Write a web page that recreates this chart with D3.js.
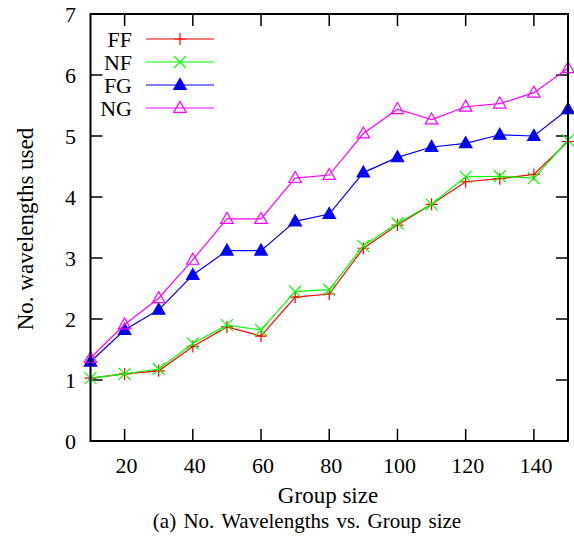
<!DOCTYPE html>
<html><head><meta charset="utf-8">
<script src="https://cdn.jsdelivr.net/npm/d3@7"></script>
<style>body{margin:0;background:#fff}svg text{font-family:"Liberation Serif","Times New Roman",serif}</style>
</head><body><svg id="c" width="574" height="537"></svg>
<script>
const groupSizes = [10,20,30,40,50,60,70,80,90,100,110,120,130,140,150];
const FF = [1.03,1.10,1.15,1.55,1.87,1.72,2.36,2.41,3.16,3.54,3.88,4.25,4.30,4.37,4.91];
const NF = [1.03,1.10,1.18,1.60,1.90,1.82,2.45,2.48,3.20,3.57,3.88,4.33,4.34,4.31,4.93];
const FG = [1.30,1.82,2.15,2.72,3.12,3.12,3.60,3.72,4.40,4.65,4.82,4.88,5.02,5.00,5.44];
const NG = [1.36,1.91,2.34,2.97,3.64,3.64,4.31,4.36,5.04,5.44,5.27,5.48,5.53,5.71,6.11];
const seriesNames = ["FF","NF","FG","NG"];
const xTicks = [20,40,60,80,100,120,140];
const yTicks = [0,1,2,3,4,5,6,7];

const series = [
  {name:seriesNames[0], values:FF, color:"#ff0000", marker:"plus"},
  {name:seriesNames[1], values:NF, color:"#00ff00", marker:"cross"},
  {name:seriesNames[2], values:FG, color:"#0000ff", marker:"tri"},
  {name:seriesNames[3], values:NG, color:"#ff00ff", marker:"otri"}
];

const svg = d3.select("#c");
const L=90.5, R=568, T=14, B=441;
const x = d3.scaleLinear().domain([10,150]).range([L,R]);
const y = d3.scaleLinear().domain([0,7]).range([B,T]);
const tl = 12;

const g = svg.append("g");
xTicks.forEach(t=>{
  g.append("line").attr("x1",x(t)).attr("x2",x(t)).attr("y1",B).attr("y2",B-tl).attr("stroke","#000").attr("stroke-width",1.5);
  g.append("line").attr("x1",x(t)).attr("x2",x(t)).attr("y1",T).attr("y2",T+tl).attr("stroke","#000").attr("stroke-width",1.5);
  g.append("text").attr("x",x(t)+2).attr("y",473).attr("text-anchor","middle").attr("font-size",22).text(t);
});
yTicks.forEach(t=>{
  if(t>0 && t<7){
    g.append("line").attr("x1",L).attr("x2",L+tl).attr("y1",y(t)).attr("y2",y(t)).attr("stroke","#000").attr("stroke-width",1.5);
    g.append("line").attr("x1",R).attr("x2",R-tl).attr("y1",y(t)).attr("y2",y(t)).attr("stroke","#000").attr("stroke-width",1.5);
  }
  g.append("text").attr("x",76).attr("y",y(t)+7.5).attr("text-anchor","end").attr("font-size",22).text(t);
});

function drawMarker(sel, type, color, cx, cy){
  const s=6;
  if(type==="plus"){
    sel.append("path").attr("d",`M${cx-s},${cy}H${cx+s}M${cx},${cy-s}V${cy+s}`).attr("stroke",color).attr("stroke-width",1.2).attr("fill","none");
  } else if(type==="cross"){
    sel.append("path").attr("d",`M${cx-s},${cy-s}L${cx+s},${cy+s}M${cx-s},${cy+s}L${cx+s},${cy-s}`).attr("stroke",color).attr("stroke-width",1.2).attr("fill","none");
  } else {
    const h=11, w=12.5;
    const d=`M${cx},${cy-h*0.6}L${cx+w/2},${cy+h*0.4}L${cx-w/2},${cy+h*0.4}Z`;
    sel.append("path").attr("d",d).attr("stroke",color).attr("stroke-width",1.2)
      .attr("fill", type==="tri"?color:"none");
  }
}

const line = d3.line().x((d,i)=>x(groupSizes[i])).y(d=>y(d));
series.forEach(s=>{
  const sg = svg.append("g");
  sg.append("path").datum(s.values).attr("d",line).attr("fill","none").attr("stroke",s.color).attr("stroke-width",1.2);
  s.values.forEach((v,i)=>drawMarker(sg,s.marker,s.color,x(groupSizes[i]),y(v)));
});

series.forEach((s,i)=>{
  const ly = 39 + i*23;
  svg.append("text").attr("x",132).attr("y",ly+7.5).attr("text-anchor","end").attr("font-size",22).text(s.name);
  svg.append("line").attr("x1",146).attr("x2",214).attr("y1",ly).attr("y2",ly).attr("stroke",s.color).attr("stroke-width",1.2);
  drawMarker(svg,s.marker,s.color,180,ly);
});

svg.append("rect").attr("x",L).attr("y",T).attr("width",R-L).attr("height",B-T).attr("fill","none").attr("stroke","#000").attr("stroke-width",2);

svg.append("text").attr("x",328).attr("y",503).attr("text-anchor","middle").attr("font-size",23).text("Group size");
svg.append("text").attr("transform",`translate(33,229) rotate(-90)`).attr("text-anchor","middle").attr("font-size",23).text("No. wavelengths used");
svg.append("text").attr("x",307).attr("y",528).attr("text-anchor","middle").attr("font-size",21).attr("word-spacing",2).text("(a) No. Wavelengths vs. Group size");
</script></body></html>
